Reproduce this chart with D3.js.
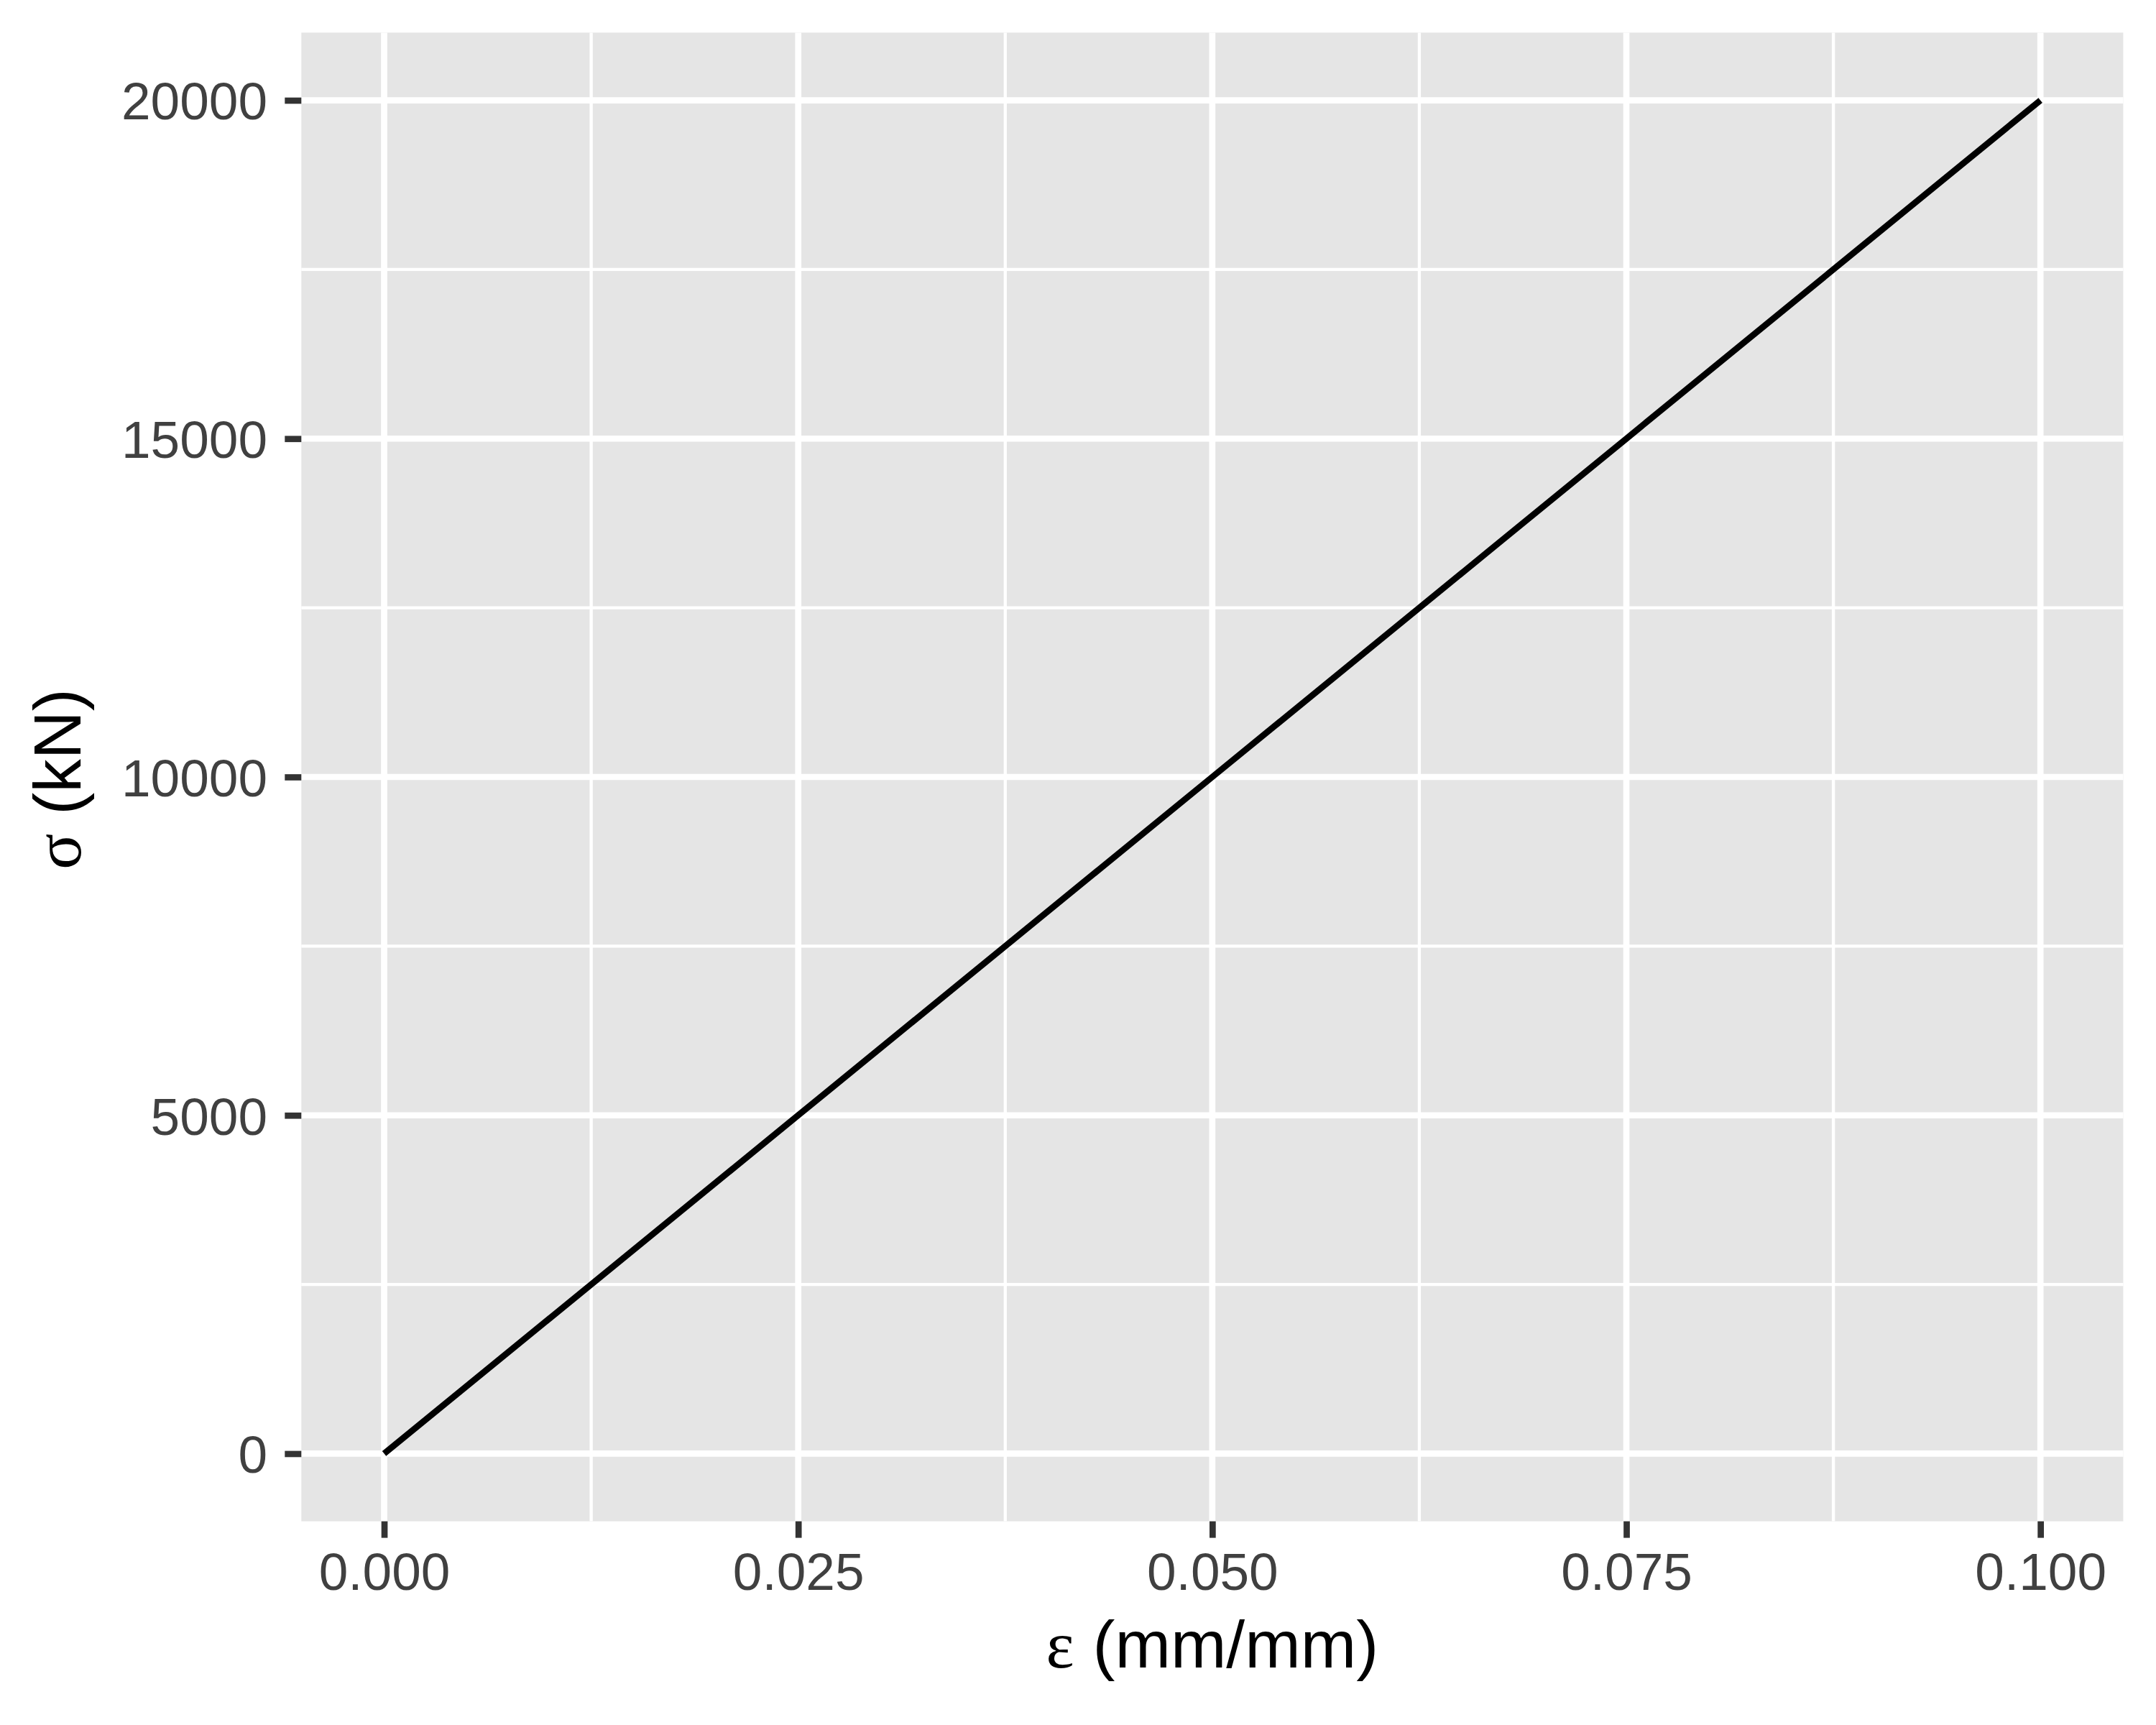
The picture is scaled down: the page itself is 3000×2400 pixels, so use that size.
<!DOCTYPE html>
<html>
<head>
<meta charset="utf-8">
<script src="https://cdn.jsdelivr.net/npm/d3@7/dist/d3.min.js"></script>
<style>
  html, body { margin: 0; padding: 0; background: #ffffff; }
  svg { display: block; }
</style>
</head>
<body>
<script>
// ---- data ----
const strain = [0, 0.025, 0.05, 0.075, 0.1];
const stress = [0, 5000, 10000, 15000, 20000];
const xTicks = [0, 0.025, 0.05, 0.075, 0.1];
const xTickLabels = ["0.000", "0.025", "0.050", "0.075", "0.100"];
const xMinor = [0.0125, 0.0375, 0.0625, 0.0875];
const yTicks = [0, 5000, 10000, 15000, 20000];
const yTickLabels = ["0", "5000", "10000", "15000", "20000"];
const yMinor = [2500, 7500, 12500, 17500];
const xTitleGreek = "ε", xTitleRest = " (mm/mm)";
const yTitleGreek = "σ", yTitleRest = " (kN)";

// ---- layout ----
const W = 3000, H = 2400;
const P = { left: 419.3, right: 2954.4, top: 45.4, bottom: 2116.6 };
const majorW = 8.7, minorW = 4.35;
const tickFont = 73, titleFont = 93;
const sans = "'Liberation Sans', Arial, Helvetica, sans-serif";
const serif = "'Liberation Serif', 'Times New Roman', serif";

const svg = d3.select("body").append("svg").attr("width", W).attr("height", H);
svg.append("rect").attr("width", W).attr("height", H).attr("fill", "#ffffff");

const x = d3.scaleLinear().domain([-0.005, 0.105]).range([P.left, P.right]);
const y = d3.scaleLinear().domain([-1000, 21000]).range([P.bottom, P.top]);

// panel
svg.append("rect")
  .attr("x", P.left).attr("y", P.top)
  .attr("width", P.right - P.left).attr("height", P.bottom - P.top)
  .attr("fill", "#E5E5E5");

const grid = svg.append("g");
grid.selectAll("line.xmin").data(xMinor).join("line")
  .attr("x1", d => x(d)).attr("x2", d => x(d))
  .attr("y1", P.top).attr("y2", P.bottom)
  .attr("stroke", "#ffffff").attr("stroke-width", minorW);
grid.selectAll("line.ymin").data(yMinor).join("line")
  .attr("y1", d => y(d)).attr("y2", d => y(d))
  .attr("x1", P.left).attr("x2", P.right)
  .attr("stroke", "#ffffff").attr("stroke-width", minorW);
grid.selectAll("line.xmaj").data(xTicks).join("line")
  .attr("x1", d => x(d)).attr("x2", d => x(d))
  .attr("y1", P.top).attr("y2", P.bottom)
  .attr("stroke", "#ffffff").attr("stroke-width", majorW);
grid.selectAll("line.ymaj").data(yTicks).join("line")
  .attr("y1", d => y(d)).attr("y2", d => y(d))
  .attr("x1", P.left).attr("x2", P.right)
  .attr("stroke", "#ffffff").attr("stroke-width", majorW);

// data line
const pts = strain.map((s, i) => [s, stress[i]]);
svg.append("path")
  .datum(pts)
  .attr("d", d3.line().x(d => x(d[0])).y(d => y(d[1])))
  .attr("fill", "none")
  .attr("stroke", "#000000")
  .attr("stroke-width", majorW)
  .attr("stroke-linecap", "butt")
  .attr("stroke-linejoin", "round");

// axes
const xAxis = d3.axisBottom(x)
  .tickValues(xTicks)
  .tickFormat((d, i) => xTickLabels[i])
  .tickSize(23).tickSizeOuter(0).tickPadding(20.6);
const gx = svg.append("g").attr("transform", `translate(0,${P.bottom})`).call(xAxis);
gx.select(".domain").remove();
gx.selectAll(".tick line").attr("stroke", "#333333").attr("stroke-width", majorW);
gx.selectAll(".tick text")
  .attr("fill", "#404040")
  .style("font-family", sans).style("font-size", tickFont + "px");

const yAxis = d3.axisLeft(y)
  .tickValues(yTicks)
  .tickFormat((d, i) => yTickLabels[i])
  .tickSize(23).tickSizeOuter(0).tickPadding(24.3);
const gy = svg.append("g").attr("transform", `translate(${P.left},0)`).call(yAxis);
gy.select(".domain").remove();
gy.selectAll(".tick line").attr("stroke", "#333333").attr("stroke-width", majorW);
gy.selectAll(".tick text")
  .attr("fill", "#404040").attr("dy", "0.36em")
  .style("font-family", sans).style("font-size", tickFont + "px");

// titles
const xt = svg.append("text")
  .attr("x", (P.left + P.right) / 2).attr("y", 2320)
  .attr("text-anchor", "middle")
  .attr("fill", "#000000")
  .style("font-family", sans).style("font-size", titleFont + "px");
xt.append("tspan").style("font-family", serif).text(xTitleGreek);
xt.append("tspan").text(xTitleRest);

const yt = svg.append("text")
  .attr("transform", `translate(112,${(P.top + P.bottom) / 2 + 3}) rotate(-90)`)
  .attr("text-anchor", "middle")
  .attr("fill", "#000000")
  .style("font-family", sans).style("font-size", titleFont + "px");
yt.append("tspan").style("font-family", serif).text(yTitleGreek);
yt.append("tspan").text(yTitleRest);
</script>
</body>
</html>
